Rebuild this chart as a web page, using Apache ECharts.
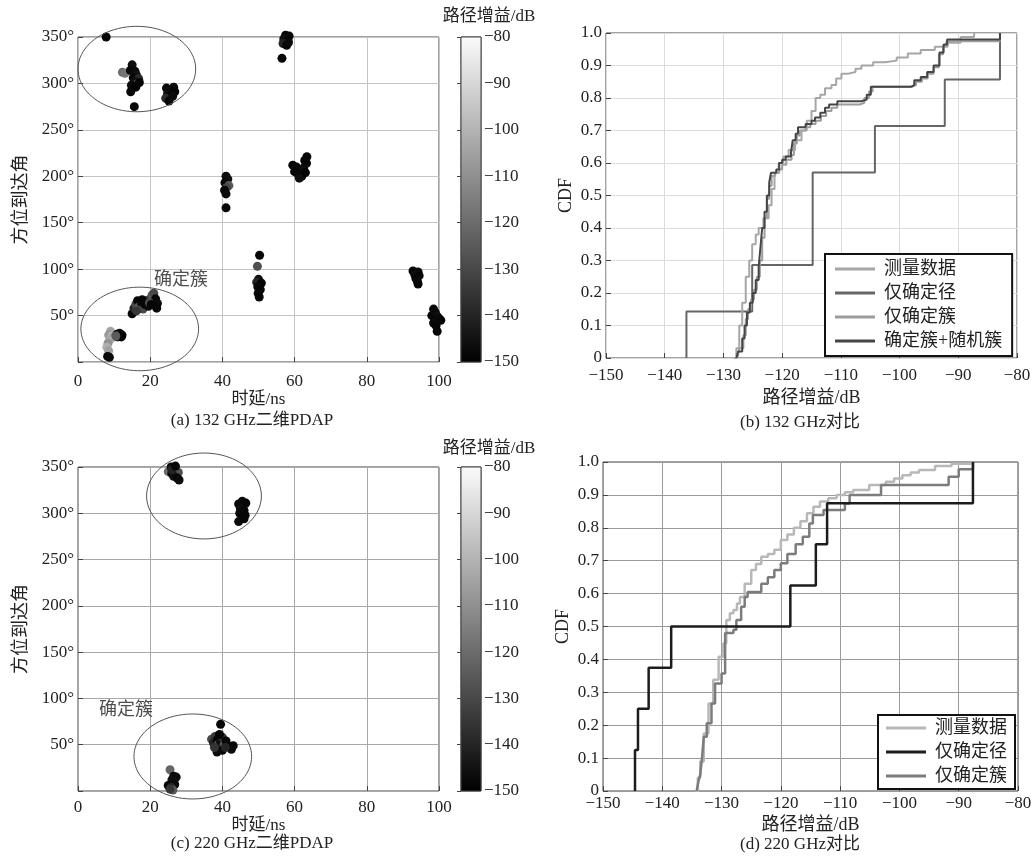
<!DOCTYPE html>
<html>
<head>
<meta charset="utf-8">
<script src="https://cdn.jsdelivr.net/npm/echarts@6.0.0/dist/echarts.min.js"></script>
<style>
  html, body { margin: 0; background: #fff; }
  #chart { width: 1032px; height: 861px; }
</style>
</head>
<body>
<div id="chart"></div>
<script>
// ---- data: [delay ns, azimuth deg, path gain dB] ----
const pdap132 = [
  [7.8, 350, -148],
  [12.3, 312, -120], [13.0, 311, -118],
  [15.0, 320, -146], [14.5, 314, -148], [15.8, 313, -147], [16.2, 309, -145], [15.3, 306, -148],
  [16.8, 305, -138], [15.6, 302, -146], [16.5, 300, -128], [17.0, 301, -148], [14.8, 298, -147],
  [16.0, 296, -149], [14.6, 291, -148], [15.6, 275, -148],
  [24.5, 295, -148], [25.5, 293, -147], [26.5, 296, -148], [24.8, 289, -146], [25.8, 288, -148],
  [26.8, 291, -149], [24.3, 284, -138], [25.2, 281, -148], [26.2, 286, -147],
  [57.5, 352, -148], [58.5, 351, -147], [57.0, 348, -146], [58.2, 346, -148], [56.8, 343, -140],
  [57.8, 341, -148], [58.3, 344, -147], [56.5, 327, -148],
  [41.0, 200, -147], [41.5, 197, -146], [40.7, 193, -148], [41.8, 190, -125], [41.2, 188, -130],
  [40.6, 185, -148], [41.0, 181, -147], [41.0, 166, -148],
  [50.3, 115, -148], [49.7, 103, -128], [50.0, 89, -146], [49.5, 86, -140], [50.8, 85, -148],
  [49.8, 81, -147], [50.5, 78, -148], [49.9, 74, -147], [50.2, 70, -148],
  [59.5, 212, -148], [60.5, 210, -147], [61.5, 207, -148], [62.5, 209, -146], [60.0, 205, -148],
  [61.0, 202, -147], [62.0, 200, -148], [63.0, 204, -149], [63.3, 214, -147], [63.4, 221, -148],
  [62.8, 217, -148], [61.3, 198, -146],
  [92.8, 98, -148], [94.2, 97, -147], [93.3, 94, -146], [94.5, 93, -148], [93.6, 90, -148],
  [94.0, 87, -147], [94.2, 84, -148],
  [98.5, 57, -148], [99.0, 53, -147], [98.0, 50, -148], [99.5, 49, -146], [98.8, 46, -148],
  [100.0, 47, -147], [99.3, 43, -148], [100.5, 45, -148], [98.5, 42, -147], [99.2, 39, -148],
  [99.5, 33, -148],
  [9.0, 33, -105], [8.5, 29, -108], [9.5, 28, -100], [10.0, 27, -112], [8.8, 24, -104],
  [8.3, 20, -110], [8.0, 16, -102], [8.5, 12, -106], [10.8, 30, -148], [11.5, 31, -146],
  [12.2, 29, -148], [11.0, 27, -140], [12.0, 27, -149], [10.5, 28, -125], [8.2, 6, -148], [8.7, 5, -147],
  [15.0, 52, -148], [15.5, 58, -140], [16.0, 62, -130], [16.5, 66, -148], [17.0, 60, -125],
  [17.5, 64, -146], [18.0, 57, -130], [18.5, 62, -148], [19.0, 66, -140], [19.5, 60, -147],
  [20.0, 68, -135], [20.5, 72, -125], [21.0, 74, -130], [21.5, 68, -148], [22.0, 63, -147],
  [21.8, 58, -148], [16.2, 55, -135], [17.8, 67, -148], [19.8, 64, -128], [20.3, 62, -148]
];
const pdap220 = [
  [25.0, 345, -120], [25.8, 350, -148], [26.5, 348, -147], [27.2, 346, -135], [26.0, 343, -148],
  [27.0, 342, -130], [27.8, 344, -128], [26.5, 340, -146], [27.5, 338, -148], [28.0, 336, -147],
  [26.0, 347, -140], [27.0, 351, -148],
  [44.5, 310, -148], [45.5, 313, -147], [46.5, 311, -148], [45.0, 305, -146], [46.0, 303, -148],
  [44.8, 300, -147], [46.3, 298, -148], [45.5, 296, -148], [44.5, 291, -147], [46.0, 294, -148],
  [39.5, 72, -148], [37.0, 56, -130], [37.5, 52, -140], [38.0, 59, -135], [38.5, 55, -148],
  [38.8, 50, -128], [39.0, 46, -140], [39.5, 53, -146], [40.0, 58, -135], [40.5, 50, -125],
  [40.0, 44, -148], [38.5, 42, -147], [41.0, 54, -148], [41.5, 49, -147], [37.8, 47, -136],
  [39.2, 61, -148], [43.0, 49, -148], [42.5, 45, -147], [40.8, 47, -140],
  [25.5, 23, -122], [26.5, 16, -148], [27.2, 15, -147], [26.0, 12, -146], [25.0, 6, -148],
  [26.8, 7, -147], [25.8, 4, -140], [26.3, 1, -125], [25.5, 2, -135]
];
// cluster ellipses: [centre delay, centre angle, half width ns, half height deg]
const clusters132 = [[16.3, 315.5, 16.3, 46], [17.1, 35.6, 16.3, 45]];
const clusters220 = [[34.9, 318.7, 15.9, 46.4], [31.8, 37.3, 16.3, 45.9]];
const clusterLabel132 = [[28.5, 88, '确定簇']];
const clusterLabel220 = [[13.3, 87.5, '确定簇']];
const gainRange = [-150, -80];

// ---- CDF data: [path gain dB, CDF] ----
const cdf132Measured = [
  [-128.2, 0], [-127.8, 0.03], [-127.3, 0.10], [-126.8, 0.17], [-126.2, 0.25], [-125.6, 0.30],
  [-125.1, 0.35], [-124.5, 0.38], [-124.0, 0.40], [-123.2, 0.43], [-122.3, 0.47], [-121.8, 0.52],
  [-121.3, 0.57], [-120.6, 0.60], [-119.8, 0.62], [-118.9, 0.64], [-117.8, 0.67], [-116.7, 0.70],
  [-115.8, 0.73], [-115.0, 0.76], [-114.3, 0.80], [-113.5, 0.81], [-112.7, 0.83], [-111.6, 0.84],
  [-110.8, 0.86], [-109.9, 0.875], [-108.7, 0.88], [-107.5, 0.89], [-106.5, 0.90], [-104.5, 0.91],
  [-102.5, 0.915], [-100.5, 0.925], [-98.6, 0.937], [-96.4, 0.948], [-94.0, 0.958], [-91.8, 0.97],
  [-89.6, 0.988], [-87.3, 1.0]
];
const cdf132Paths = [
  [-136.3, 0], [-136.3, 0.143], [-125.1, 0.286], [-114.8, 0.571], [-104.2, 0.714], [-92.3, 0.857], [-82.9, 1.0]
];
const cdf132Cluster = [
  [-127.6, 0], [-127.3, 0.03], [-126.6, 0.07], [-126.2, 0.12], [-125.8, 0.15], [-125.3, 0.18],
  [-124.8, 0.21], [-124.3, 0.25], [-123.8, 0.30], [-123.4, 0.37], [-123.0, 0.43], [-122.6, 0.49],
  [-122.2, 0.53], [-121.8, 0.56], [-121.2, 0.57], [-120.5, 0.58], [-120.0, 0.595], [-119.3, 0.61],
  [-118.4, 0.625], [-118.0, 0.66], [-117.5, 0.685], [-117.0, 0.70], [-116.0, 0.71], [-115.2, 0.72],
  [-114.3, 0.73], [-113.4, 0.745], [-112.5, 0.76], [-111.6, 0.77], [-110.6, 0.78], [-106.8, 0.785],
  [-106.0, 0.80], [-105.2, 0.82], [-104.6, 0.835], [-97.8, 0.84], [-97.2, 0.85], [-96.2, 0.86],
  [-95.2, 0.875], [-94.2, 0.895], [-93.3, 0.935], [-92.6, 0.96], [-92.0, 0.975], [-82.9, 0.985], [-82.9, 1.0]
];
const cdf132Mixed = [
  [-127.8, 0], [-127.5, 0.02], [-126.8, 0.06], [-126.4, 0.10], [-126.0, 0.14], [-125.5, 0.17],
  [-125.0, 0.20], [-124.5, 0.24], [-124.0, 0.28], [-123.7, 0.34], [-123.4, 0.40], [-123.0, 0.45],
  [-122.6, 0.50], [-122.2, 0.54], [-121.9, 0.57], [-121.0, 0.58], [-120.5, 0.60], [-120.0, 0.61],
  [-119.4, 0.62], [-118.5, 0.63], [-118.2, 0.67], [-117.7, 0.69], [-117.3, 0.71], [-116.0, 0.72],
  [-115.0, 0.73], [-114.4, 0.74], [-113.5, 0.755], [-112.7, 0.77], [-112.0, 0.78], [-110.6, 0.79],
  [-106.5, 0.795], [-105.6, 0.81], [-104.9, 0.835], [-98.0, 0.84], [-97.5, 0.855], [-96.4, 0.865],
  [-95.3, 0.88], [-94.2, 0.90], [-93.2, 0.94], [-92.5, 0.965], [-91.9, 0.98], [-82.9, 0.985], [-82.9, 1.0]
];
const cdf220Measured = [
  [-134.4, 0], [-134.0, 0.04], [-133.6, 0.09], [-133.0, 0.175], [-132.2, 0.266], [-131.4, 0.338],
  [-130.5, 0.408], [-129.7, 0.449], [-129.2, 0.52], [-128.6, 0.54], [-128.0, 0.55], [-127.4, 0.57],
  [-126.9, 0.59], [-126.1, 0.63], [-125.0, 0.672], [-124.2, 0.69], [-123.3, 0.712], [-122.2, 0.72],
  [-121.1, 0.733], [-120.0, 0.763], [-118.9, 0.78], [-117.8, 0.80], [-116.7, 0.82], [-115.6, 0.844],
  [-114.5, 0.864], [-113.4, 0.88], [-112.0, 0.89], [-110.6, 0.90], [-109.2, 0.908], [-107.8, 0.915],
  [-105.1, 0.93], [-102.3, 0.94], [-100.9, 0.95], [-99.5, 0.96], [-98.1, 0.968], [-96.7, 0.976],
  [-94.0, 0.988], [-91.2, 0.995], [-88.0, 1.0]
];
const cdf220Paths = [
  [-144.6, 0], [-144.6, 0.125], [-144.1, 0.25], [-142.3, 0.375], [-138.5, 0.5],
  [-118.4, 0.625], [-114.1, 0.75], [-112.2, 0.875], [-87.6, 1.0]
];
const cdf220Cluster = [
  [-134.2, 0], [-133.9, 0.03], [-133.6, 0.05], [-133.3, 0.10], [-133.0, 0.165], [-132.5, 0.206],
  [-131.7, 0.266], [-131.1, 0.327], [-130.0, 0.357], [-129.4, 0.48], [-128.0, 0.49], [-127.5, 0.52],
  [-126.7, 0.56], [-126.1, 0.59], [-125.6, 0.605], [-123.3, 0.63], [-122.2, 0.65], [-121.1, 0.672],
  [-120.0, 0.692], [-118.9, 0.72], [-117.5, 0.75], [-116.3, 0.773], [-115.2, 0.813], [-114.6, 0.839],
  [-112.8, 0.854], [-109.2, 0.874], [-108.4, 0.90], [-103.1, 0.93], [-91.7, 0.955], [-90.0, 0.978], [-87.6, 1.0]
];
const names132 = ['测量数据', '仅确定径', '仅确定簇', '确定簇+随机簇'];
const names220 = ['测量数据', '仅确定径', '仅确定簇'];
const colors132 = ['#a6a6a6', '#666666', '#9c9c9c', '#454545'];
const colors220 = ['#b8b8b8', '#1c1c1c', '#7c7c7c'];

// ---- styling helpers ----
const FONT = '"Liberation Serif", "Noto Sans CJK SC", serif';
const minus = v => (v < 0 ? '\u2212' + Math.abs(v) : String(v));
const txt = { fontFamily: FONT, color: '#222', fontSize: 17 };

const chart = echarts.init(document.getElementById('chart'));

const gridBase = { show: true, borderColor: '#444', borderWidth: 1, containLabel: false, outerBoundsMode: 'none' };
const grids = [
  { left: 78, top: 37, width: 361, height: 325 },   // a
  { left: 461, top: 37, width: 20, height: 325 },   // a colorbar
  { left: 606, top: 33, width: 411, height: 325 },  // b
  { left: 78, top: 467, width: 361, height: 324 },  // c
  { left: 461, top: 467, width: 20, height: 324 },  // c colorbar
  { left: 603, top: 462, width: 415, height: 329 }  // d
].map(g => Object.assign({}, gridBase, g));

function pdapAxes(gi, gridColor, labelMargin, nameGap) {
  return {
    x: {
      gridIndex: gi, type: 'value', min: 0, max: 100, interval: 20,
      name: '时延/ns', nameLocation: 'middle', nameGap: nameGap,
      nameTextStyle: Object.assign({}, txt, { fontSize: 17 }),
      axisLine: { show: false },
      axisTick: { inside: true, length: 5, lineStyle: { color: '#444' } },
      axisLabel: Object.assign({ margin: labelMargin }, txt),
      splitLine: { lineStyle: { color: gridColor, width: 1 } }
    },
    y: {
      gridIndex: gi, type: 'value', min: 0, max: 350, interval: 50,
      name: '方位到达角', nameLocation: 'middle', nameGap: 48,
      nameTextStyle: Object.assign({}, txt, { fontSize: 18 }),
      axisLine: { show: false },
      axisTick: { inside: true, length: 5, lineStyle: { color: '#444' } },
      axisLabel: Object.assign({ margin: 4, formatter: v => (v === 0 ? '' : v + '°') }, txt),
      splitLine: { lineStyle: { color: gridColor, width: 1 } }
    }
  };
}

function cdfAxes(gi, gridColor, labelMargin, nameGap) {
  return {
    x: {
      gridIndex: gi, type: 'value', min: -150, max: -80, interval: 10,
      name: '路径增益/dB', nameLocation: 'middle', nameGap: nameGap,
      nameTextStyle: Object.assign({}, txt, { fontSize: 18 }),
      axisLine: { show: false },
      axisTick: { inside: true, length: 5, lineStyle: { color: '#444' } },
      axisLabel: Object.assign({ margin: labelMargin, formatter: minus }, txt),
      splitLine: { lineStyle: { color: gridColor, width: 1 } }
    },
    y: {
      gridIndex: gi, type: 'value', min: 0, max: 1, interval: 0.1,
      name: 'CDF', nameLocation: 'middle', nameGap: 31,
      nameTextStyle: Object.assign({}, txt, { fontSize: 18 }),
      axisLine: { show: false },
      axisTick: { inside: true, length: 5, lineStyle: { color: '#444' } },
      axisLabel: Object.assign({ margin: 4, formatter: v => (v === 0 ? '0' : v.toFixed(1)) }, txt),
      splitLine: { lineStyle: { color: gridColor, width: 1 } }
    }
  };
}

function colorbarAxes(gi) {
  return {
    x: { gridIndex: gi, type: 'value', min: 0, max: 1, show: false },
    y: {
      gridIndex: gi, type: 'value', min: gainRange[0], max: gainRange[1], interval: 10,
      position: 'right',
      axisLine: { show: false },
      axisTick: { inside: true, length: 4, lineStyle: { color: '#444' } },
      axisLabel: Object.assign({ margin: 3, formatter: minus }, txt),
      splitLine: { show: false }
    }
  };
}

const axA = pdapAxes(0, '#c4c4c4', 11, 29);
const axCbA = colorbarAxes(1);
const axB = cdfAxes(2, '#dcdcdc', 9, 31);
const axC = pdapAxes(3, '#a8a8a8', 8, 26);
const axCbC = colorbarAxes(4);
const axD = cdfAxes(5, '#9a9a9a', 4, 25);
const allAx = [axA, axCbA, axB, axC, axCbC, axD];

function ellipseItem(params, api) {
  const c = api.coord([api.value(0), api.value(1)]);
  const s = api.size([api.value(2), api.value(3)]);
  const pts = [];
  for (let i = 0; i <= 90; i++) {
    const t = (i / 90) * Math.PI * 2;
    pts.push([c[0] + s[0] * Math.cos(t), c[1] + s[1] * Math.sin(t)]);
  }
  return { type: 'polyline', shape: { points: pts }, style: { fill: null, stroke: '#555', lineWidth: 1 } };
}

function colorbarItem(params, api) {
  const top = api.coord([0, api.value(1)]);
  const bottom = api.coord([1, api.value(0)]);
  return {
    type: 'rect',
    shape: { x: top[0], y: top[1], width: bottom[0] - top[0], height: bottom[1] - top[1] },
    style: {
      fill: new echarts.graphic.LinearGradient(0, 0, 0, 1, [
        { offset: 0, color: '#fbfbfb' }, { offset: 1, color: '#000000' }
      ]),
      stroke: '#444', lineWidth: 1
    }
  };
}

const series = [];
const scatterIdx = [];
function addPdap(gi, cbGi, pts, ellipses, label) {
  scatterIdx.push(series.length);
  series.push({
    type: 'scatter', xAxisIndex: gi, yAxisIndex: gi, data: pts, symbolSize: 9, clip: false,
    itemStyle: { opacity: 1 }
  });
  series.push({
    type: 'custom', xAxisIndex: gi, yAxisIndex: gi, data: ellipses, renderItem: ellipseItem, clip: false, silent: true, z: 3
  });
  series.push({
    type: 'scatter', xAxisIndex: gi, yAxisIndex: gi, data: label, symbolSize: 0, silent: true,
    label: Object.assign({ show: true, position: 'inside', formatter: p => p.value[2] }, txt, { fontSize: 18 })
  });
  series.push({
    type: 'custom', xAxisIndex: cbGi, yAxisIndex: cbGi, data: [gainRange], renderItem: colorbarItem, clip: false, silent: true
  });
}
addPdap(0, 1, pdap132, clusters132, clusterLabel132);
addPdap(3, 4, pdap220, clusters220, clusterLabel220);

function addCdf(gi, name, data, color, width) {
  series.push({
    type: 'line', name: name, xAxisIndex: gi, yAxisIndex: gi, data: data, step: 'end',
    symbol: 'none', lineStyle: { color: color, width: width }, itemStyle: { color: color }
  });
}
addCdf(2, names132[1], cdf132Paths, colors132[1], 2);
addCdf(2, names132[2], cdf132Cluster, colors132[2], 2);
addCdf(2, names132[0], cdf132Measured, colors132[0], 2);
addCdf(2, names132[3], cdf132Mixed, colors132[3], 2);
addCdf(5, names220[0], cdf220Measured, colors220[0], 2.5);
addCdf(5, names220[2], cdf220Cluster, colors220[2], 2.5);
addCdf(5, names220[1], cdf220Paths, colors220[1], 2.5);

const legendBase = {
  orient: 'vertical', itemWidth: 40, itemHeight: 3, itemGap: 4, icon: 'rect',
  backgroundColor: '#fff', borderColor: '#111', borderWidth: 2, borderRadius: 0,
  textStyle: Object.assign({}, txt, { fontSize: 18, lineHeight: 20, padding: [0, 0, 0, 4] })
};

const captionStyle = { font: '17px ' + FONT, fill: '#222', textAlign: 'center', textVerticalAlign: 'middle' };
const captions = [
  ['(a) 132 GHz二维PDAP', 252, 421], ['(b) 132 GHz对比', 800, 423],
  ['(c) 220 GHz二维PDAP', 252, 844], ['(d) 220 GHz对比', 800, 845],
  ['路径增益/dB', 489, 17], ['路径增益/dB', 489, 449]
];

chart.setOption({
  animation: false,
  backgroundColor: '#fff',
  grid: grids,
  xAxis: allAx.map(a => a.x),
  yAxis: allAx.map(a => a.y),
  visualMap: {
    show: false, type: 'continuous', min: gainRange[0], max: gainRange[1], dimension: 2,
    seriesIndex: scatterIdx, inRange: { color: ['#000000', '#ffffff'] }
  },
  legend: [
    Object.assign({}, legendBase, {
      left: 825, top: 254, padding: [5, 10, 5, 10],
      data: names132.map((n, i) => ({ name: n, icon: 'rect', itemStyle: { color: colors132[i] } }))
    }),
    Object.assign({}, legendBase, {
      left: 878, top: 715, padding: [3, 8, 3, 8],
      data: names220.map((n, i) => ({ name: n, icon: 'rect', itemStyle: { color: colors220[i] } }))
    })
  ],
  graphic: captions.map(c => ({
    type: 'text', x: c[1], y: c[2], silent: true,
    style: Object.assign({ text: c[0] }, captionStyle)
  })),
  series: series
});
</script>
</body>
</html>
